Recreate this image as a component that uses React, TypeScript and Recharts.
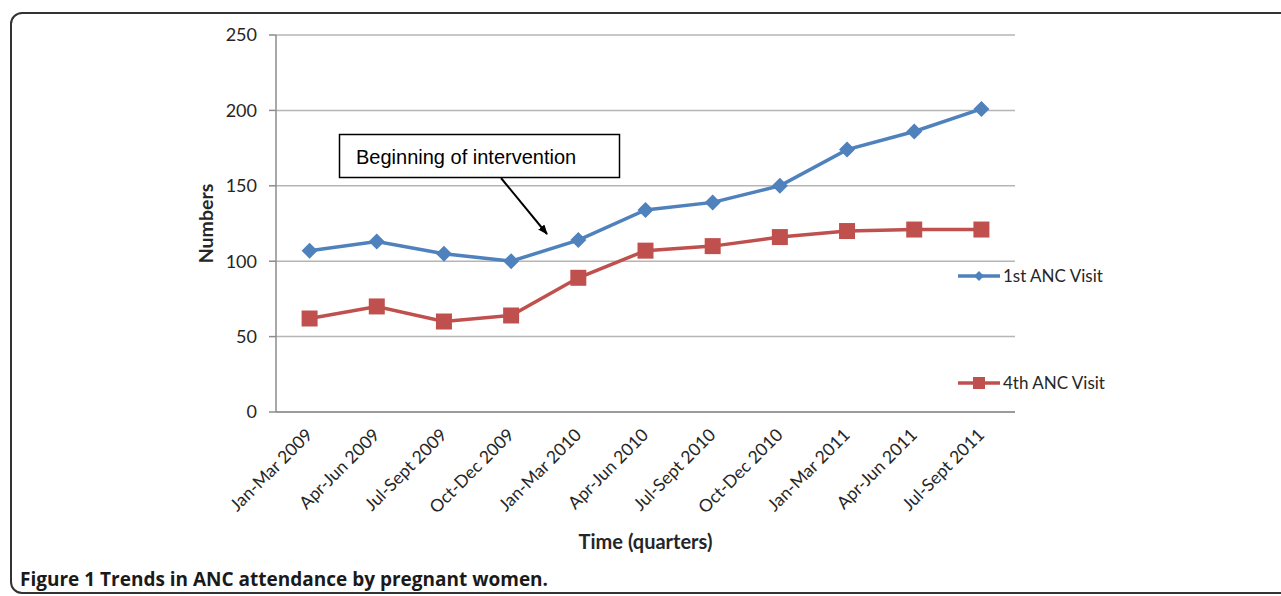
import { LineChart, Line, XAxis, YAxis, CartesianGrid } from 'recharts'

const quarters = [
  'Jan-Mar 2009',
  'Apr-Jun 2009',
  'Jul-Sept 2009',
  'Oct-Dec 2009',
  'Jan-Mar 2010',
  'Apr-Jun 2010',
  'Jul-Sept 2010',
  'Oct-Dec 2010',
  'Jan-Mar 2011',
  'Apr-Jun 2011',
  'Jul-Sept 2011',
]
const firstVisit = [107, 113, 105, 100, 114, 134, 139, 150, 174, 186, 201]
const fourthVisit = [62, 70, 60, 64, 89, 107, 110, 116, 120, 121, 121]
const yTicks = [0, 50, 100, 150, 200, 250]

const BLUE = '#4f81bd'
const RED = '#c0504d'
const FONT = 'Lato, "Open Sans", sans-serif'

const data = quarters.map((q, i) => ({
  name: q,
  pos: i + 0.5,
  first: firstVisit[i],
  fourth: fourthVisit[i],
}))
const boundaryTicks = quarters.map((_, i) => i).concat(quarters.length)
const centerTicks = quarters.map((_, i) => i + 0.5)

const Diamond = (props: any) => {
  const { cx, cy, index } = props
  if (cx == null || cy == null) return null
  const r = 8
  return (
    <path
      key={`d-${index}`}
      d={`M${cx},${cy - r}L${cx + r},${cy}L${cx},${cy + r}L${cx - r},${cy}Z`}
      fill={BLUE}
    />
  )
}

const Square = (props: any) => {
  const { cx, cy, index } = props
  if (cx == null || cy == null) return null
  const s = 8
  return <rect key={`s-${index}`} x={cx - s} y={cy - s} width={s * 2} height={s * 2} fill={RED} />
}

const QuarterTick = (props: any) => {
  const { x, y, payload } = props
  const label = quarters[Math.round(payload.value - 0.5)] ?? ''
  const ax = x + 4
  const ay = y + 8
  return (
    <text
      x={ax}
      y={ay}
      textAnchor="end"
      transform={`rotate(-45 ${ax} ${ay})`}
      fontFamily={FONT}
      fontSize={17.5}
      fill="#262626"
    >
      {label}
    </text>
  )
}

export default function App() {
  return (
    <div
      style={{
        position: 'absolute',
        left: 0,
        top: 0,
        width: 1281,
        height: 596,
        overflow: 'hidden',
        background: '#fff',
      }}
    >
      <div
        style={{
          position: 'absolute',
          left: 10,
          top: 12,
          width: 1300,
          height: 582,
          border: '2px solid #333',
          borderRadius: 12,
          boxSizing: 'border-box',
        }}
      />
      <LineChart
        width={1281}
        height={596}
        data={data}
        margin={{ top: 35, right: 266, left: 206, bottom: 66 }}
        style={{ position: 'absolute', left: 0, top: 0 }}
      >
        <CartesianGrid vertical={false} stroke="#b5b5b5" strokeWidth={1.5} />
        <XAxis
          type="number"
          dataKey="pos"
          domain={[0, quarters.length]}
          ticks={boundaryTicks}
          tick={false}
          tickSize={7}
          height={8}
          stroke="#8c8c8c"
          strokeWidth={1.5}
        />
        <XAxis
          xAxisId="labels"
          type="number"
          dataKey="pos"
          domain={[0, quarters.length]}
          ticks={centerTicks}
          axisLine={false}
          tickLine={false}
          tick={<QuarterTick />}
          interval={0}
          height={110}
          label={(p: any) => {
            const vb = p.viewBox
            return (
              <text
                x={vb.x + vb.width / 2}
                y={549}
                textAnchor="middle"
                fontFamily={FONT}
                fontWeight="bold"
                fontSize={20}
                fill="#262626"
              >
                Time (quarters)
              </text>
            )
          }}
        />
        <YAxis
          domain={[0, 250]}
          ticks={yTicks}
          width={70}
          tickSize={7}
          tickMargin={12}
          stroke="#8c8c8c"
          strokeWidth={1.5}
          tick={{ fontFamily: FONT, fontSize: 18, fill: '#262626' }}
          label={(p: any) => {
            const vb = p.viewBox
            const cy = vb.y + vb.height / 2
            return (
              <text
                x={213}
                y={cy}
                textAnchor="middle"
                transform={`rotate(-90 213 ${cy})`}
                fontFamily={FONT}
                fontWeight="bold"
                fontSize={19.5}
                fill="#262626"
              >
                Numbers
              </text>
            )
          }}
        />
        <Line
          dataKey="first"
          name="1st ANC Visit"
          stroke={BLUE}
          strokeWidth={3.5}
          dot={Diamond}
          activeDot={false}
          isAnimationActive={false}
        />
        <Line
          dataKey="fourth"
          name="4th ANC Visit"
          stroke={RED}
          strokeWidth={3.5}
          dot={Square}
          activeDot={false}
          isAnimationActive={false}
        />
      </LineChart>
      <svg
        width={1281}
        height={596}
        style={{ position: 'absolute', left: 0, top: 0, pointerEvents: 'none' }}
      >
        <defs>
          <marker id="arrowHead" markerWidth="10" markerHeight="8" refX="9" refY="4" orient="auto" markerUnits="userSpaceOnUse">
            <path d="M0,0L10,4L0,8Z" fill="#000" />
          </marker>
        </defs>
        <rect x={339.5} y={134.5} width={280} height={43} fill="#fff" stroke="#000" strokeWidth={1.5} />
        <text x={356} y={164} fontFamily="'Liberation Sans', Arial, sans-serif" fontSize={20} fill="#000">
          Beginning of intervention
        </text>
        <line x1={501} y1={178} x2={547} y2={234} stroke="#000" strokeWidth={2} markerEnd="url(#arrowHead)" />
        <g fontFamily={FONT} fontSize={17} fill="#262626">
          <line x1={958} y1={276} x2={1000} y2={276} stroke={BLUE} strokeWidth={3.5} />
          <path d="M979,271L984,276L979,281L974,276Z" fill={BLUE} />
          <text x={1003} y={282}>1st ANC Visit</text>
          <line x1={958} y1={383} x2={1000} y2={383} stroke={RED} strokeWidth={3.5} />
          <rect x={973} y={377} width={12} height={12} fill={RED} />
          <text x={1003} y={389}>4th ANC Visit</text>
        </g>
      </svg>
      <div
        style={{
          position: 'absolute',
          left: 20,
          top: 566,
          fontFamily: '"Open Sans", sans-serif',
          fontWeight: 'bold',
          fontSize: 19,
          color: '#1a1a1a',
          whiteSpace: 'nowrap',
        }}
      >
        Figure 1 Trends in ANC attendance by pregnant women.
      </div>
    </div>
  )
}
